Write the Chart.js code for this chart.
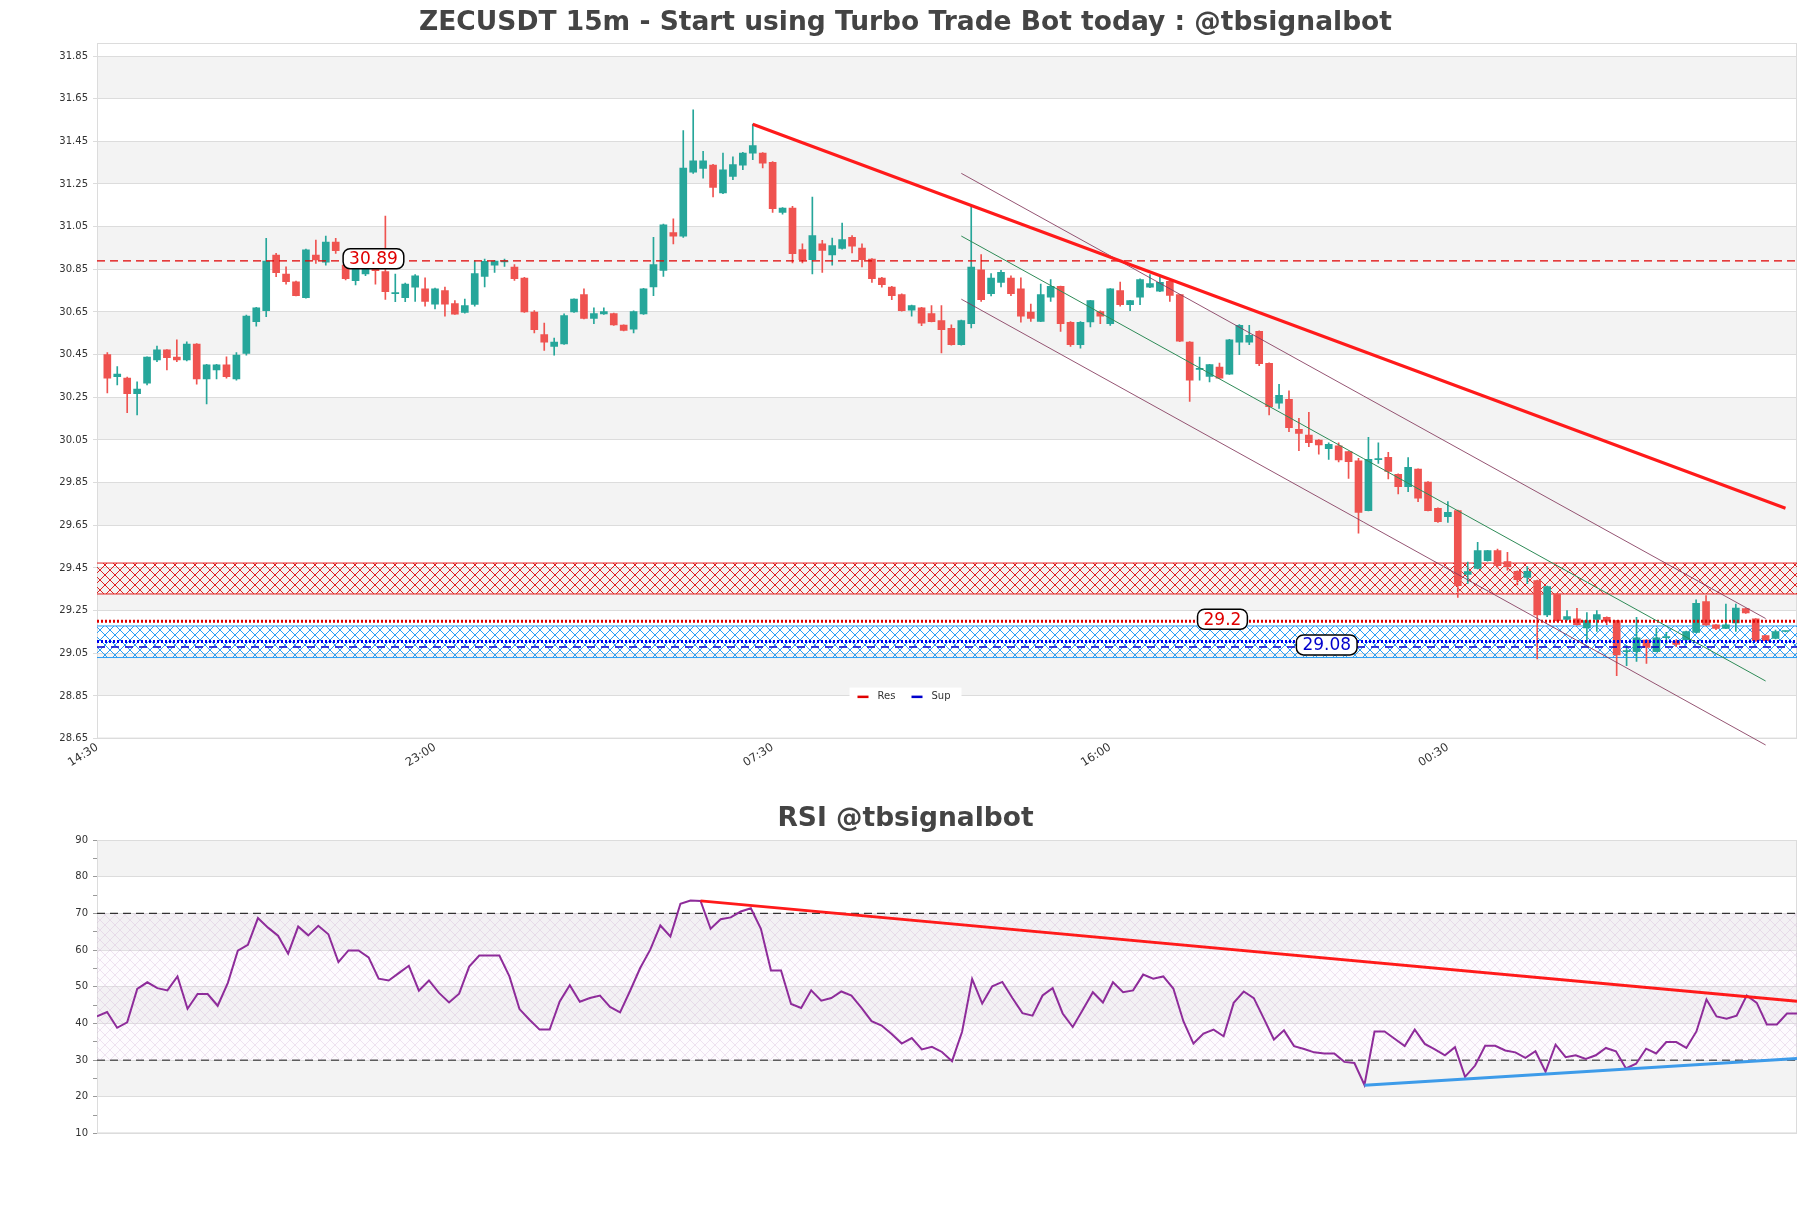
<!DOCTYPE html>
<html>
<head>
<meta charset="utf-8">
<script src="https://cdn.jsdelivr.net/npm/chart.js@4.4.0/dist/chart.umd.min.js"></script>
<style>
  html, body { margin: 0; padding: 0; background: #fff; }
  #wrap { position: relative; width: 1811px; height: 1208px; }
  canvas { position: absolute; left: 0; }
  #main { top: 0; }
  #rsi { top: 780px; }
</style>
</head>
<body>
<div id="wrap">
  <canvas id="main" width="1811" height="780"></canvas>
  <canvas id="rsi" width="1811" height="428"></canvas>
</div>
<script>
// ---- data ----
const xTickIdx = [-1, 33, 67, 101, 135];
const xTickLabels = ['14:30', '23:00', '07:30', '16:00', '00:30'];
const yTicks = [28.65, 28.85, 29.05, 29.25, 29.45, 29.65, 29.85, 30.05, 30.25, 30.45, 30.65, 30.85, 31.05, 31.25, 31.45, 31.65, 31.85];
const rsiTicks = [10, 15, 20, 25, 30, 35, 40, 45, 50, 55, 60, 65, 70, 75, 80, 85, 90];

const opens = [
  30.45, 30.347, 30.34, 30.267, 30.316, 30.425, 30.472, 30.439, 30.425, 30.5,
  30.336, 30.378, 30.402, 30.336, 30.456, 30.605, 30.656, 30.917, 30.828, 30.791,
  30.717, 30.917, 30.884, 30.978, 30.87, 30.797, 30.828, 30.855, 30.839, 30.736,
  30.717, 30.766, 30.759, 30.687, 30.75, 30.689, 30.648, 30.686, 30.817, 30.869,
  30.885, 30.861, 30.809, 30.65, 30.544, 30.489, 30.5, 30.65, 30.731, 30.62,
  30.641, 30.642, 30.589, 30.57, 30.641, 30.767, 30.845, 31.022, 31.005, 31.305,
  31.323, 31.339, 31.208, 31.286, 31.338, 31.395, 31.395, 31.352, 31.117, 31.137,
  30.942, 30.895, 30.97, 30.917, 30.948, 31.0, 30.95, 30.898, 30.809, 30.767,
  30.731, 30.658, 30.669, 30.642, 30.61, 30.573, 30.497, 30.595, 30.848, 30.736,
  30.789, 30.809, 30.758, 30.65, 30.606, 30.719, 30.77, 30.602, 30.497, 30.603,
  30.652, 30.595, 30.75, 30.684, 30.719, 30.766, 30.747, 30.794, 30.731, 30.509,
  30.381, 30.348, 30.392, 30.359, 30.508, 30.508, 30.559, 30.409, 30.222, 30.241,
  30.1, 30.073, 30.05, 30.009, 30.022, 29.995, 29.952, 29.719, 29.958, 29.969,
  29.889, 29.831, 29.913, 29.853, 29.73, 29.69, 29.719, 29.42, 29.448, 29.484,
  29.531, 29.48, 29.434, 29.406, 29.391, 29.23, 29.328, 29.209, 29.211, 29.169,
  29.209, 29.219, 29.203, 29.058, 29.058, 29.112, 29.058, 29.123, 29.106, 29.113,
  29.148, 29.292, 29.183, 29.167, 29.192, 29.259, 29.211, 29.133, 29.12, 29.152
];
const highs = [
  30.46, 30.394, 30.345, 30.322, 30.44, 30.49, 30.474, 30.519, 30.51, 30.502,
  30.405, 30.405, 30.44, 30.46, 30.635, 30.672, 30.995, 30.925, 30.862, 30.795,
  30.945, 30.987, 31.006, 30.995, 30.88, 30.86, 30.86, 30.86, 31.1, 30.828,
  30.785, 30.825, 30.81, 30.762, 30.767, 30.703, 30.711, 30.89, 30.898, 30.892,
  30.898, 30.872, 30.812, 30.656, 30.598, 30.528, 30.641, 30.712, 30.759, 30.669,
  30.669, 30.645, 30.59, 30.655, 30.761, 31.0, 31.062, 31.087, 31.5, 31.598,
  31.403, 31.342, 31.395, 31.377, 31.398, 31.531, 31.397, 31.355, 31.14, 31.145,
  30.969, 31.189, 30.986, 30.997, 31.067, 31.008, 30.969, 30.9, 30.812, 30.77,
  30.735, 30.682, 30.672, 30.68, 30.68, 30.59, 30.612, 31.145, 30.919, 30.83,
  30.845, 30.82, 30.81, 30.687, 30.781, 30.802, 30.772, 30.605, 30.605, 30.705,
  30.655, 30.76, 30.79, 30.705, 30.805, 30.825, 30.817, 30.796, 30.733, 30.511,
  30.439, 30.405, 30.41, 30.522, 30.591, 30.587, 30.562, 30.412, 30.311, 30.28,
  30.152, 30.18, 30.052, 30.037, 30.037, 29.997, 29.964, 30.062, 30.037, 29.992,
  29.891, 29.967, 29.915, 29.855, 29.732, 29.761, 29.721, 29.477, 29.57, 29.533,
  29.539, 29.523, 29.436, 29.456, 29.393, 29.365, 29.33, 29.25, 29.261, 29.241,
  29.25, 29.221, 29.205, 29.086, 29.219, 29.114, 29.167, 29.148, 29.114, 29.154,
  29.3, 29.32, 29.185, 29.281, 29.281, 29.261, 29.213, 29.135, 29.159, 29.154
];
const lows = [
  30.27, 30.308, 30.178, 30.167, 30.308, 30.417, 30.378, 30.417, 30.42, 30.311,
  30.219, 30.336, 30.34, 30.33, 30.448, 30.584, 30.628, 30.816, 30.78, 30.725,
  30.715, 30.878, 30.869, 30.925, 30.8, 30.777, 30.82, 30.78, 30.709, 30.698,
  30.698, 30.7, 30.677, 30.664, 30.63, 30.638, 30.645, 30.677, 30.767, 30.836,
  30.864, 30.798, 30.648, 30.552, 30.47, 30.447, 30.498, 30.648, 30.618, 30.595,
  30.639, 30.587, 30.561, 30.552, 30.639, 30.727, 30.817, 30.969, 31.0, 31.3,
  31.277, 31.189, 31.205, 31.27, 31.317, 31.364, 31.325, 31.117, 31.109, 30.88,
  30.88, 30.828, 30.836, 30.869, 30.945, 30.927, 30.861, 30.789, 30.766, 30.708,
  30.654, 30.63, 30.586, 30.603, 30.458, 30.495, 30.495, 30.575, 30.7, 30.725,
  30.767, 30.727, 30.602, 30.606, 30.604, 30.7, 30.559, 30.489, 30.48, 30.58,
  30.595, 30.587, 30.677, 30.656, 30.684, 30.764, 30.745, 30.7, 30.511, 30.231,
  30.33, 30.322, 30.338, 30.357, 30.45, 30.497, 30.398, 30.167, 30.198, 30.089,
  30.0, 30.019, 29.983, 29.959, 29.947, 29.87, 29.613, 29.717, 29.94, 29.867,
  29.797, 29.808, 29.761, 29.717, 29.663, 29.663, 29.312, 29.378, 29.446, 29.482,
  29.45, 29.44, 29.37, 29.378, 29.023, 29.222, 29.2, 29.205, 29.182, 29.106,
  29.153, 29.184, 28.945, 28.992, 29.012, 29.003, 29.056, 29.094, 29.081, 29.094,
  29.146, 29.181, 29.161, 29.165, 29.153, 29.237, 29.106, 29.106, 29.117, 29.15
];
const closes = [
  30.34, 30.359, 30.267, 30.289, 30.439, 30.472, 30.436, 30.425, 30.5, 30.336,
  30.402, 30.402, 30.347, 30.448, 30.631, 30.67, 30.889, 30.834, 30.792, 30.727,
  30.941, 30.894, 30.978, 30.937, 30.806, 30.855, 30.855, 30.844, 30.745, 30.738,
  30.781, 30.82, 30.7, 30.759, 30.687, 30.64, 30.68, 30.83, 30.887, 30.889,
  30.886, 30.806, 30.65, 30.567, 30.508, 30.509, 30.633, 30.711, 30.62, 30.642,
  30.652, 30.589, 30.563, 30.652, 30.759, 30.872, 31.059, 31.005, 31.325, 31.359,
  31.359, 31.234, 31.317, 31.341, 31.395, 31.43, 31.348, 31.134, 31.137, 30.923,
  30.895, 31.008, 30.939, 30.961, 30.989, 30.958, 30.895, 30.806, 30.778, 30.727,
  30.656, 30.68, 30.597, 30.605, 30.567, 30.497, 30.61, 30.861, 30.708, 30.809,
  30.836, 30.736, 30.63, 30.62, 30.731, 30.77, 30.595, 30.497, 30.602, 30.703,
  30.63, 30.758, 30.684, 30.703, 30.802, 30.783, 30.789, 30.728, 30.513, 30.33,
  30.383, 30.403, 30.34, 30.52, 30.587, 30.541, 30.408, 30.206, 30.259, 30.108,
  30.081, 30.037, 30.027, 30.03, 29.956, 29.948, 29.71, 29.959, 29.959, 29.902,
  29.831, 29.922, 29.777, 29.719, 29.667, 29.711, 29.367, 29.433, 29.531, 29.531,
  29.461, 29.456, 29.395, 29.434, 29.23, 29.363, 29.203, 29.222, 29.184, 29.203,
  29.231, 29.2, 29.042, 29.06, 29.122, 29.078, 29.122, 29.125, 29.091, 29.152,
  29.284, 29.183, 29.167, 29.183, 29.262, 29.239, 29.109, 29.109, 29.152, 29.152
];
const rsiValues = [
  41.9, 43.1, 38.8, 40.3, 49.4, 51.2, 49.6, 49.0, 52.8, 44.0,
  48.0, 48.0, 44.8, 51.0, 59.8, 61.4, 68.7, 66.1, 63.9, 59.0,
  66.4, 64.0, 66.6, 64.3, 56.7, 59.9, 59.9, 58.0, 52.2, 51.7,
  53.7, 55.7, 48.9, 51.7, 48.3, 45.7, 48.1, 55.5, 58.5, 58.5,
  58.5, 52.8, 43.9, 41.0, 38.3, 38.3, 46.0, 50.4, 45.9, 46.9,
  47.6, 44.5, 43.0, 48.9, 55.1, 60.1, 66.7, 63.7, 72.6, 73.5,
  73.4, 65.8, 68.4, 68.9, 70.5, 71.4, 65.8, 54.4, 54.4, 45.3,
  44.2, 49.0, 46.2, 46.9, 48.7, 47.6, 44.2, 40.6, 39.4, 37.1,
  34.5, 36.0, 32.9, 33.6, 32.2, 29.7, 37.7, 52.1, 45.4, 50.1,
  51.3, 46.9, 42.8, 42.1, 47.6, 49.6, 42.7, 39.0, 43.7, 48.5,
  45.7, 51.2, 48.5, 49.0, 53.3, 52.2, 52.8, 49.5, 40.6, 34.5,
  37.2, 38.3, 36.5, 45.6, 48.7, 46.9, 41.3, 35.6, 38.1, 33.8,
  33.0, 32.1, 31.8, 31.8, 29.5, 29.2, 23.2, 37.8, 37.8, 35.8,
  33.8, 38.3, 34.4, 32.9, 31.3, 33.5, 25.4, 28.5, 33.9, 33.9,
  32.6, 32.1, 30.6, 32.4, 26.8, 34.2, 30.8, 31.3, 30.3, 31.3,
  33.3, 32.4, 27.7, 29.0, 33.1, 31.8, 34.9, 34.9, 33.3, 37.8,
  46.5, 41.9, 41.3, 42.1, 47.6, 45.6, 39.7, 39.7, 42.7, 42.7
];

// levels and zones
const resLevel = 30.89;
const resDotted = 29.2;
const supDotted = 29.105;
const supLevel = 29.08;
const resZone = [29.328, 29.473];
const supZone = [29.03, 29.178];
const legendNames = ['Res', 'Sup'];

// trend lines [index, value]
const resTrend = [[65, 31.53], [169, 29.73]];
const channelUpper = [[86, 31.30], [167, 29.213]];
const channelMid = [[86, 31.006], [167, 28.92]];
const channelLower = [[86, 30.71], [167, 28.62]];
const rsiResTrend = [[60, 73.4], [169, 46.0]];
const rsiSupTrend = [[126, 23.1], [169, 30.4]];
const rsiLevels = [70, 30];

// ---- drawing ----
Chart.defaults.font.family = '"DejaVu Sans", sans-serif';
Chart.defaults.animation = false;

const X_MIN = -1.04, X_MAX = 170.16;
const Y_MIN = 28.65, Y_MAX = 31.911;
const GREEN = '#26a69a', RED = '#ef5350';

function hatch(color, size, lw, bg) {
  const c = document.createElement('canvas');
  c.width = c.height = size;
  const g = c.getContext('2d');
  if (bg) { g.fillStyle = bg; g.fillRect(0, 0, size, size); }
  g.strokeStyle = color;
  g.lineWidth = lw;
  g.beginPath();
  g.moveTo(0, 0); g.lineTo(size, size);
  g.moveTo(size, 0); g.lineTo(0, size);
  g.stroke();
  return g.createPattern(c, 'repeat');
}

const pts = arr => arr.map(p => ({ x: p[0], y: p[1] }));
const flat = (v, a, b) => [{ x: a, y: v }, { x: b, y: v }];
const idx = opens.map((_, i) => i);
const candleColors = idx.map(i => closes[i] >= opens[i] ? GREEN : RED);

const bandsPlugin = {
  id: 'bands',
  beforeDraw(chart, args, opts) {
    const { ctx, chartArea: a, scales: { y } } = chart;
    ctx.save();
    ctx.fillStyle = '#fff';
    ctx.fillRect(0, 0, chart.width, chart.height);
    const edges = opts.edges;
    for (let k = 0; k < edges.length - 1; k++) {
      if (k % 2 === 1) {
        const y0 = y.getPixelForValue(edges[k]);
        const y1 = y.getPixelForValue(edges[k + 1]);
        ctx.fillStyle = '#f3f3f3';
        ctx.fillRect(a.left, y1, a.right - a.left, y0 - y1);
      }
    }
    ctx.restore();
  },
  beforeDatasetsDraw(chart) {
    const { ctx, chartArea: a } = chart;
    ctx.save();
    ctx.strokeStyle = '#dcdcdc';
    ctx.lineWidth = 1;
    ctx.strokeRect(a.left + 0.5, a.top + 0.5, a.right - a.left - 1, a.bottom - a.top - 1);
    ctx.restore();
  }
};

const tagsPlugin = {
  id: 'tags',
  afterDatasetsDraw(chart, args, opts) {
    const { ctx, scales: { x, y } } = chart;
    ctx.save();
    ctx.font = '17px "DejaVu Sans"';
    ctx.textAlign = 'center';
    ctx.textBaseline = 'middle';
    opts.items.forEach(t => {
      const w = ctx.measureText(t.text).width + 12, h = 20;
      const cx = x.getPixelForValue(t.at), cy = y.getPixelForValue(t.value) - 2;
      ctx.beginPath();
      ctx.roundRect(cx - w / 2, cy - h / 2, w, h, 7);
      ctx.fillStyle = '#fff';
      ctx.fill();
      ctx.lineWidth = 1.5;
      ctx.strokeStyle = '#000';
      ctx.stroke();
      ctx.fillStyle = t.color;
      ctx.fillText(t.text, cx, cy + 1);
    });
    ctx.restore();
  },
  afterDraw(chart) {
    const ctx = chart.ctx;
    const cx = chart.width / 2, cy = chart.chartArea.bottom - 42;
    ctx.save();
    ctx.fillStyle = '#fff';
    ctx.fillRect(cx - 56, cy - 9, 112, 18);
    ctx.font = '10px "DejaVu Sans"';
    ctx.textBaseline = 'middle';
    ctx.textAlign = 'left';
    [[legendNames[0], '#e00000', -48], [legendNames[1], '#0000cc', 6]].forEach(([t, c, dx]) => {
      ctx.fillStyle = c;
      ctx.fillRect(cx + dx, cy - 1, 11, 2.5);
      ctx.fillStyle = '#333';
      ctx.fillText(t, cx + dx + 20, cy);
    });
    ctx.restore();
  }
};

const redHatch = hatch('#e02020', 10, 1);
const blueHatch = hatch('#2a9df4', 10, 1);
const rsiHatch = hatch('rgba(200,160,205,0.35)', 10, 0.8, 'rgba(245,235,248,0.18)');

const lineBase = { type: 'line', pointRadius: 0, borderWidth: 1, fill: false, tension: 0 };

new Chart(document.getElementById('main'), {
  type: 'bar',
  data: {
    datasets: [
      { type: 'bar', data: idx.map(i => ({ x: i, y: [lows[i], highs[i]] })), backgroundColor: candleColors,
        barThickness: 1, grouped: false, order: 5 },
      { type: 'bar', data: idx.map(i => ({ x: i, y: [opens[i], closes[i]] })), backgroundColor: candleColors,
        barThickness: 7, minBarLength: 1, grouped: false, order: 4 },
      { ...lineBase, data: flat(resZone[1], X_MIN, X_MAX), borderColor: '#e02020', fill: '+1', backgroundColor: redHatch, order: 8 },
      { ...lineBase, data: flat(resZone[0], X_MIN, X_MAX), borderColor: '#e02020', order: 8 },
      { ...lineBase, data: flat(supZone[1], X_MIN, X_MAX), borderColor: '#2a9df4', fill: '+1', backgroundColor: blueHatch, order: 8 },
      { ...lineBase, data: flat(supZone[0], X_MIN, X_MAX), borderColor: '#2a9df4', order: 8 },
      { ...lineBase, data: flat(resLevel, X_MIN, X_MAX), borderColor: '#e00000', borderWidth: 1.3, borderDash: [8, 5], order: 3 },
      { ...lineBase, data: flat(resDotted, X_MIN, X_MAX), borderColor: '#e00000', borderWidth: 3, borderDash: [2, 2], order: 3 },
      { ...lineBase, data: flat(supDotted, X_MIN, X_MAX), borderColor: '#0000ee', borderWidth: 3, borderDash: [2, 2], order: 3 },
      { ...lineBase, data: flat(supLevel, X_MIN, X_MAX), borderColor: '#0000cc', borderWidth: 1.5, borderDash: [8, 6], order: 3 },
      { ...lineBase, data: pts(resTrend), borderColor: '#ff1a1a', borderWidth: 3, order: 1 },
      { ...lineBase, data: pts(channelUpper), borderColor: 'rgba(130,55,90,0.85)', order: 1 },
      { ...lineBase, data: pts(channelMid), borderColor: '#2e8b57', order: 1 },
      { ...lineBase, data: pts(channelLower), borderColor: 'rgba(130,55,90,0.85)', clip: false, order: 1 }
    ]
  },
  options: {
    responsive: false,
    layout: { padding: { left: 14, right: 14, top: 0, bottom: 0 } },
    scales: {
      x: {
        type: 'linear', min: X_MIN, max: X_MAX, offset: false,
        afterBuildTicks: s => { s.ticks = xTickIdx.map(v => ({ value: v })); },
        afterFit: s => { s.height = 41.4; },
        ticks: { callback: (v, i) => xTickLabels[i], minRotation: 32, maxRotation: 32, autoSkip: false,
          font: { size: 11.5 }, color: '#333', padding: 2 },
        grid: { display: false, drawTicks: false },
        border: { display: false }
      },
      y: {
        min: Y_MIN, max: Y_MAX,
        afterBuildTicks: s => { s.ticks = yTicks.map(v => ({ value: v })); },
        afterFit: s => { s.width = 83; },
        ticks: { callback: v => v.toFixed(2), font: { size: 10 }, color: '#333', padding: 5 },
        grid: { color: '#dcdcdc', tickLength: 4 },
        border: { display: false }
      }
    },
    plugins: {
      title: { display: true, text: 'ZECUSDT 15m - Start using Turbo Trade Bot today : @tbsignalbot',
        font: { size: 26.5, weight: 'bold' }, color: '#444', padding: { top: 7.1, bottom: 4.1 } },
      legend: { display: false },
      tooltip: { enabled: false },
      bands: { edges: yTicks.concat([Y_MAX]) },
      tags: { items: [
        { text: String(resLevel), value: resLevel, at: 26.8, color: '#e00000' },
        { text: String(resDotted), value: resDotted, at: 112.3, color: '#e00000' },
        { text: String(supLevel), value: supLevel, at: 122.8, color: '#0000cc' }
      ] }
    }
  },
  plugins: [bandsPlugin, tagsPlugin]
});

new Chart(document.getElementById('rsi'), {
  type: 'line',
  data: {
    datasets: [
      { ...lineBase, data: rsiValues.map((v, i) => ({ x: i, y: v })), borderColor: '#8e2c9a', borderWidth: 2, order: 2 },
      { ...lineBase, data: flat(rsiLevels[0], 0, 169), borderColor: '#333', borderWidth: 1.3, borderDash: [8, 5],
        fill: '+1', backgroundColor: rsiHatch, order: 5 },
      { ...lineBase, data: flat(rsiLevels[1], 0, 169), borderColor: '#333', borderWidth: 1.3, borderDash: [8, 5], order: 5 },
      { ...lineBase, data: pts(rsiResTrend), borderColor: '#ff1a1a', borderWidth: 3, order: 1 },
      { ...lineBase, data: pts(rsiSupTrend), borderColor: '#3d9be9', borderWidth: 3, order: 1 }
    ]
  },
  options: {
    responsive: false,
    layout: { padding: { left: 14, right: 14, top: 0, bottom: 74.6 } },
    scales: {
      x: { type: 'linear', min: 0, max: 169, display: false },
      y: {
        min: 10, max: 90,
        afterBuildTicks: s => { s.ticks = rsiTicks.map(v => ({ value: v })); },
        afterFit: s => { s.width = 83; },
        ticks: { callback: v => (v % 10 === 0 ? v : ''), font: { size: 10 }, color: '#333', padding: 5, autoSkip: false },
        grid: {
          color: c => (c.tick && c.tick.value % 10 === 0 ? '#dcdcdc' : 'rgba(0,0,0,0)'),
          tickColor: '#999', tickLength: 4
        },
        border: { display: false }
      }
    },
    plugins: {
      title: { display: true, text: 'RSI @tbsignalbot', font: { size: 26.5, weight: 'bold' }, color: '#444',
        padding: { top: 23.1, bottom: 5.1 } },
      legend: { display: false },
      tooltip: { enabled: false },
      bands: { edges: [10, 20, 30, 40, 50, 60, 70, 80, 90] }
    }
  },
  plugins: [bandsPlugin]
});
</script>
</body>
</html>
